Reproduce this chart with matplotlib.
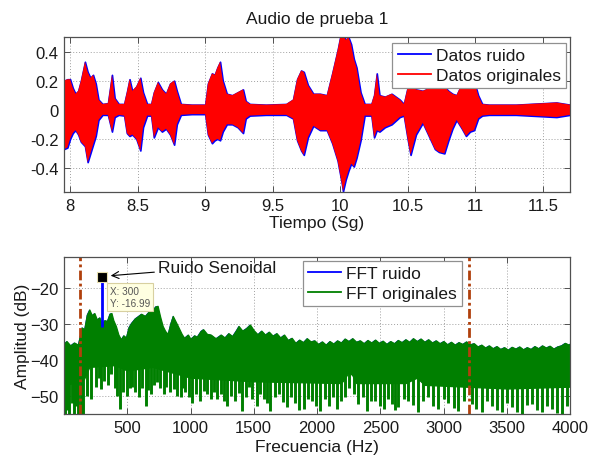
import matplotlib
matplotlib.use('Agg')
import matplotlib.pyplot as plt
from matplotlib.lines import Line2D
import numpy as np

plt.rcParams['font.family'] = ['Liberation Sans', 'DejaVu Sans']

# ---------------- data ----------------
# Top: envelope of the time signal
t_env = [7.955, 7.98, 8.00, 8.02, 8.04, 8.06, 8.08, 8.11, 8.13, 8.15, 8.17, 8.19, 8.21, 8.24,
         8.28, 8.31, 8.33, 8.36, 8.40, 8.42, 8.44, 8.46, 8.49, 8.52, 8.54, 8.57, 8.60, 8.62,
         8.65, 8.68, 8.71, 8.74, 8.77, 8.79, 8.82, 8.90, 9.00, 9.02, 9.05, 9.07, 9.09, 9.11,
         9.13, 9.16, 9.20, 9.24, 9.28, 9.30, 9.33, 9.45, 9.60, 9.65, 9.68, 9.71, 9.73, 9.76,
         9.80, 9.85, 9.90, 9.94, 9.98, 10.01, 10.02, 10.04, 10.06, 10.08, 10.10, 10.12, 10.15,
         10.18, 10.23, 10.25, 10.27, 10.29, 10.33, 10.38, 10.44, 10.47, 10.50, 10.52, 10.56,
         10.61, 10.66, 10.70, 10.73, 10.77, 10.80, 10.83, 10.86, 10.90, 10.93, 10.96, 10.99,
         11.02, 11.05, 11.10, 11.30, 11.50, 11.60, 11.70]
env_upper = [0.20, 0.21, 0.21, 0.15, 0.11, 0.13, 0.20, 0.33, 0.26, 0.22, 0.24, 0.18, 0.07, 0.04,
             0.045, 0.24, 0.08, 0.04, 0.04, 0.12, 0.21, 0.13, 0.16, 0.22, 0.12, 0.04, 0.04, 0.12,
             0.19, 0.14, 0.11, 0.18, 0.20, 0.13, 0.04, 0.035, 0.035, 0.18, 0.25, 0.24, 0.29, 0.33,
             0.20, 0.11, 0.10, 0.12, 0.14, 0.06, 0.04, 0.035, 0.04, 0.07, 0.21, 0.27, 0.26, 0.17,
             0.11, 0.11, 0.10, 0.25, 0.41, 0.55, 0.52, 0.48, 0.50, 0.45, 0.35, 0.29, 0.12,
             0.04, 0.04, 0.10, 0.25, 0.10, 0.09, 0.11, 0.07, 0.04, 0.16, 0.17, 0.14,
             0.13, 0.15, 0.16, 0.15, 0.16, 0.13, 0.11, 0.10, 0.18, 0.20, 0.17, 0.20,
             0.10, 0.04, 0.035, 0.035, 0.045, 0.05, 0.035]
env_lower = [-0.27, -0.26, -0.20, -0.16, -0.14, -0.17, -0.22, -0.25, -0.36, -0.30, -0.24, -0.18, -0.07, -0.035,
             -0.035, -0.15, -0.05, -0.035, -0.04, -0.16, -0.18, -0.17, -0.20, -0.28, -0.12, -0.04, -0.04, -0.19,
             -0.12, -0.15, -0.13, -0.17, -0.24, -0.10, -0.035, -0.03, -0.03, -0.17, -0.23, -0.21, -0.20, -0.21,
             -0.15, -0.10, -0.10, -0.12, -0.16, -0.06, -0.04, -0.035, -0.035, -0.06, -0.21, -0.28, -0.31, -0.19,
             -0.11, -0.14, -0.14, -0.23, -0.35, -0.50, -0.56, -0.48, -0.42, -0.37, -0.39, -0.33, -0.21,
             -0.04, -0.04, -0.19, -0.14, -0.15, -0.12, -0.10, -0.05, -0.04, -0.21, -0.31, -0.17,
             -0.09, -0.19, -0.27, -0.29, -0.30, -0.21, -0.13, -0.07, -0.13, -0.18, -0.15, -0.14,
             -0.06, -0.04, -0.035, -0.035, -0.045, -0.05, -0.035]

# Bottom: FFT upper envelope (dB)
f_up = [0, 20, 50, 80, 110, 140, 160, 180, 200, 220, 240, 260, 280, 300, 320, 340, 360, 375, 390,
        410, 430, 450, 470, 490, 510, 530, 560, 580, 610, 640, 670, 700, 720, 740, 760, 780, 800,
        820, 840, 860, 880, 900, 930, 950, 980, 1000, 1030, 1050, 1080, 1100, 1130, 1160, 1190,
        1200, 1240, 1270, 1300, 1330, 1360, 1380, 1410, 1440, 1470, 1500, 1530, 1560, 1590, 1620,
        1650, 1680, 1710, 1740, 1770, 1800, 1830, 1860, 1890, 1920, 1950, 1980, 2010, 2040, 2070,
        2100, 2130, 2160, 2190, 2220, 2250, 2280, 2310, 2340, 2370, 2400, 2430, 2460, 2490, 2520,
        2550, 2580, 2610, 2640, 2670, 2700, 2730, 2760, 2790, 2820, 2850, 2880, 2910, 2940, 2970,
        3000, 3030, 3060, 3090, 3120, 3150, 3180, 3210, 3240, 3270, 3300, 3330, 3360, 3390, 3420,
        3450, 3480, 3510, 3540, 3570, 3600, 3630, 3660, 3690, 3720, 3750, 3780, 3810, 3840, 3870,
        3900, 3930, 3960, 3990, 4000]
db_up = [-35.5, -34.8, -36.0, -35.2, -35.8, -31.0, -31.5, -27.5, -26.0, -27.6, -27.0, -28.8, -28.2,
         -30.0, -29.0, -29.2, -27.2, -27.0, -29.0, -30.6, -33.0, -34.3, -33.2, -33.8, -31.0, -29.8,
         -28.5, -28.0, -27.2, -27.8, -26.6, -26.4, -25.2, -25.0, -28.0, -30.6, -32.0, -32.8, -30.0,
         -27.8, -29.2, -30.6, -32.8, -33.9, -33.0, -34.2, -33.2, -33.6, -32.0, -31.5, -32.8, -33.0,
         -33.8, -34.0, -33.0, -33.8, -32.6, -33.4, -31.8, -30.6, -31.9, -31.2, -30.2, -31.8, -32.9,
         -31.9, -33.0, -32.2, -33.3, -32.6, -33.8, -33.0, -34.5, -33.9, -35.3, -34.4, -35.1, -34.0,
         -34.9, -34.6, -35.6, -34.9, -35.8, -34.8, -35.5, -34.6, -35.2, -34.1, -34.8, -34.0, -35.0,
         -34.6, -35.4, -34.5, -35.2, -34.4, -35.3, -34.7, -35.6, -34.8, -35.4, -34.5, -35.1, -34.3,
         -35.0, -34.0, -34.8, -34.1, -35.0, -34.3, -35.2, -34.6, -35.4, -34.8, -35.7, -35.0, -35.8,
         -35.1, -35.6, -34.9, -35.7, -35.4, -36.3, -35.8, -36.6, -36.0, -36.8, -36.2, -37.0, -36.5,
         -37.2, -36.4, -36.9, -36.3, -37.1, -36.5, -37.0, -36.2, -36.8, -36.0, -36.6, -36.1, -36.9,
         -36.3, -36.0, -35.3, -35.8, -35.5]
# lower edge of the solid body
f_low = [0, 150, 200, 400, 500, 700, 900, 1000, 1500, 2200, 2263, 2300, 2700, 2790, 2850,
         3500, 4000]
db_low = [-47, -46, -42, -41.5, -43, -42, -44, -45, -46, -46.5, -42.5, -46.5, -46.5, -45,
          -47, -48, -47.5]
# downward spikes
spike_f = [8, 25, 42, 60, 78, 95, 112, 135, 150, 180, 211, 250, 276, 295, 316, 345, 368, 400,
           420, 442, 470, 500, 520, 540, 565, 592, 620, 645, 665, 684, 710, 737, 760, 789, 810,
           840, 868, 895, 921, 940, 960, 985, 1013, 1045, 1079, 1105, 1131, 1160, 1185, 1210,
           1240, 1265, 1289, 1320, 1355, 1380, 1407, 1435, 1460, 1490, 1526, 1550, 1579, 1605,
           1631, 1665, 1697, 1730, 1763, 1795, 1829, 1860, 1895, 1925, 1960, 1990, 2026, 2060,
           2092, 2125, 2158, 2190, 2223, 2250, 2290, 2328, 2360, 2394, 2425, 2460, 2495, 2526,
           2560, 2592, 2620, 2644, 2685, 2723, 2760, 2802, 2840, 2881, 2920, 2960, 3000, 3039,
           3080, 3118, 3160, 3223, 3260, 3302, 3340, 3381, 3420, 3460, 3500, 3539, 3580, 3618,
           3660, 3697, 3740, 3776, 3815, 3855, 3895, 3934, 3973]
spike_db = [-55, -54, -55, -52, -55, -53, -55, -55, -55, -50, -51, -47.7, -45, -48.2, -45.9, -47,
            -44, -48, -50, -53.7, -49, -50, -48, -47.7, -49, -50.5, -48, -52.8, -48.5, -49.5,
            -47, -46.3, -48, -49.5, -47.5, -49, -48.1, -50, -50.5, -48, -49, -50.5, -51.9, -49.5,
            -51.4, -48.8, -49.5, -51.0, -49.0, -50.9, -49.5, -51.5, -52.8, -50.0, -51.4, -49.2,
            -54.2, -50.5, -47.7, -51.0, -52.8, -49.5, -50.9, -52.0, -54.2, -50.5, -49.5, -51.8,
            -53.2, -50.5, -51.9, -54.0, -53.7, -50.8, -51.4, -53.0, -54.2, -51.0, -52.8, -50.5,
            -53.7, -51.5, -50.5, -48.0, -49.5, -52.3, -50.5, -54.2, -51.5, -51.4, -53.0, -53.7,
            -50.8, -52.3, -54.0, -53.2, -51.0, -51.4, -52.5, -54.6, -51.5, -50.5, -52.8, -53.7,
            -51.0, -51.9, -53.5, -54.2, -51.5, -52.3, -53.8, -54.6, -51.5, -52.8, -54.0, -54.6,
            -52.0, -53.2, -54.5, -55.1, -52.5, -52.3, -54.0, -54.6, -52.8, -53.7, -54.8, -55.1,
            -52.8]
noise_f = 300
noise_base_db = -31
noise_peak_db = -16.99
cut_freqs = [125, 3200]

# ---------------- figure ----------------
fig = plt.figure(figsize=(5.9, 4.56), dpi=100)
ax1 = fig.add_axes([64/590, 1-193/456, 506/590, 155/456])
ax2 = fig.add_axes([64/590, 1-415/456, 506/590, 157/456])

txt = '#1a1a1a'
spine_c = '#505050'
for ax in (ax1, ax2):
    ax.set_axisbelow(True)
    ax.grid(True, linestyle=(0, (1, 2)), color='#a0a0a0', linewidth=0.7)
    ax.tick_params(direction='in', top=True, right=True, length=4, width=0.7,
                   labelsize=12, colors=spine_c, labelcolor=txt, pad=4)
    for s in ax.spines.values():
        s.set_color(spine_c)
        s.set_linewidth(0.9)

# Top panel
ax1.fill_between(t_env, env_upper, env_lower, facecolor='#0000ff', edgecolor='#0000ff', lw=1.2)
ax1.fill_between(t_env, env_upper, env_lower, facecolor='#ff0000', edgecolor='none', lw=0)
ax1.set_xlim(7.955, 11.70)
ax1.set_ylim(-0.565, 0.5)
ax1.set_xticks([8, 8.5, 9, 9.5, 10, 10.5, 11, 11.5])
ax1.set_xticklabels(['8', '8.5', '9', '9.5', '10', '10.5', '11', '11.5'])
ax1.set_yticks([-0.4, -0.2, 0, 0.2, 0.4])
ax1.set_yticklabels(['-0.4', '-0.2', '0', '0.2', '0.4'])
ax1.set_title('Audio de prueba 1', fontsize=12.5, color=txt, pad=10)
ax1.set_xlabel('Tiempo (Sg)', fontsize=12.5, color=txt, labelpad=2)
h1 = [Line2D([], [], color='#0000ff', lw=1.3), Line2D([], [], color='#ff0000', lw=1.3)]
leg1 = ax1.legend(h1, ['Datos ruido', 'Datos originales'], loc='upper right',
                  bbox_to_anchor=(0.992, 0.961), borderaxespad=0, fancybox=False,
                  framealpha=1, edgecolor='#909090', fontsize=12.5, handlelength=1.9,
                  handletextpad=0.3, labelspacing=0.25, borderpad=0.3)
leg1.get_frame().set_linewidth(0.9)
for tx in leg1.get_texts():
    tx.set_color(txt)

# Bottom panel
green = '#007f00'
body_low = np.interp(f_up, f_low, db_low)
spike_top = np.interp(spike_f, f_low, db_low) + 1.0
ax2.fill_between(f_up, db_up, body_low, facecolor='#0000ff', edgecolor='none')
ax2.vlines(noise_f, noise_base_db, noise_peak_db, color='#0000ff', lw=2)
ax2.fill_between(f_up, db_up, body_low, facecolor=green, edgecolor=green, lw=0.9)
ax2.vlines(spike_f, spike_top, spike_db, color=green, lw=2.1)
for cf in cut_freqs:
    ax2.axvline(cf, color='#b0400c', lw=2.0, linestyle=(0, (3.5, 1.2, 1, 1.2)))
ax2.plot([noise_f], [noise_peak_db], marker='s', ms=6.5, color='black', mec='#e8e0b0',
         mew=0.8, ls='none', zorder=6)
ax2.annotate('X: %d\nY: %.2f' % (noise_f, noise_peak_db), xy=(noise_f, noise_peak_db),
             xytext=(8, -9), textcoords='offset pixels', ha='left', va='top',
             fontsize=7.2, color='#555555', linespacing=1.25, zorder=7,
             bbox=dict(boxstyle='square,pad=0.3', fc='#ffffe1', ec='#d8d0a0', lw=0.8))
ax2.annotate('Ruido Senoidal', xy=(369, -16.6), xytext=(747, -14.2), ha='left', va='center',
             fontsize=12.5, color=txt, zorder=7,
             arrowprops=dict(arrowstyle='->', lw=0.8, color='black', shrinkA=1, shrinkB=0))
ax2.set_xlim(0, 4000)
ax2.set_ylim(-55.1, -11.4)
ax2.set_xticks([500, 1000, 1500, 2000, 2500, 3000, 3500, 4000])
ax2.set_yticks([-50, -40, -30, -20])
ax2.set_xlabel('Frecuencia (Hz)', fontsize=12.5, color=txt, labelpad=3)
ax2.set_ylabel('Amplitud (dB)', fontsize=12.5, color=txt, labelpad=0)
h2 = [Line2D([], [], color='#0000ff', lw=1.3), Line2D([], [], color=green, lw=1.3)]
leg2 = ax2.legend(h2, ['FFT ruido', 'FFT originales'], loc='upper right',
                  bbox_to_anchor=(0.7866, 0.9745), borderaxespad=0, fancybox=False,
                  framealpha=1, edgecolor='#909090', fontsize=12.5, handlelength=1.9,
                  handletextpad=0.3, labelspacing=0.25, borderpad=0.3)
leg2.get_frame().set_linewidth(0.9)
for tx in leg2.get_texts():
    tx.set_color(txt)

fig.savefig('out.png', dpi=100)
